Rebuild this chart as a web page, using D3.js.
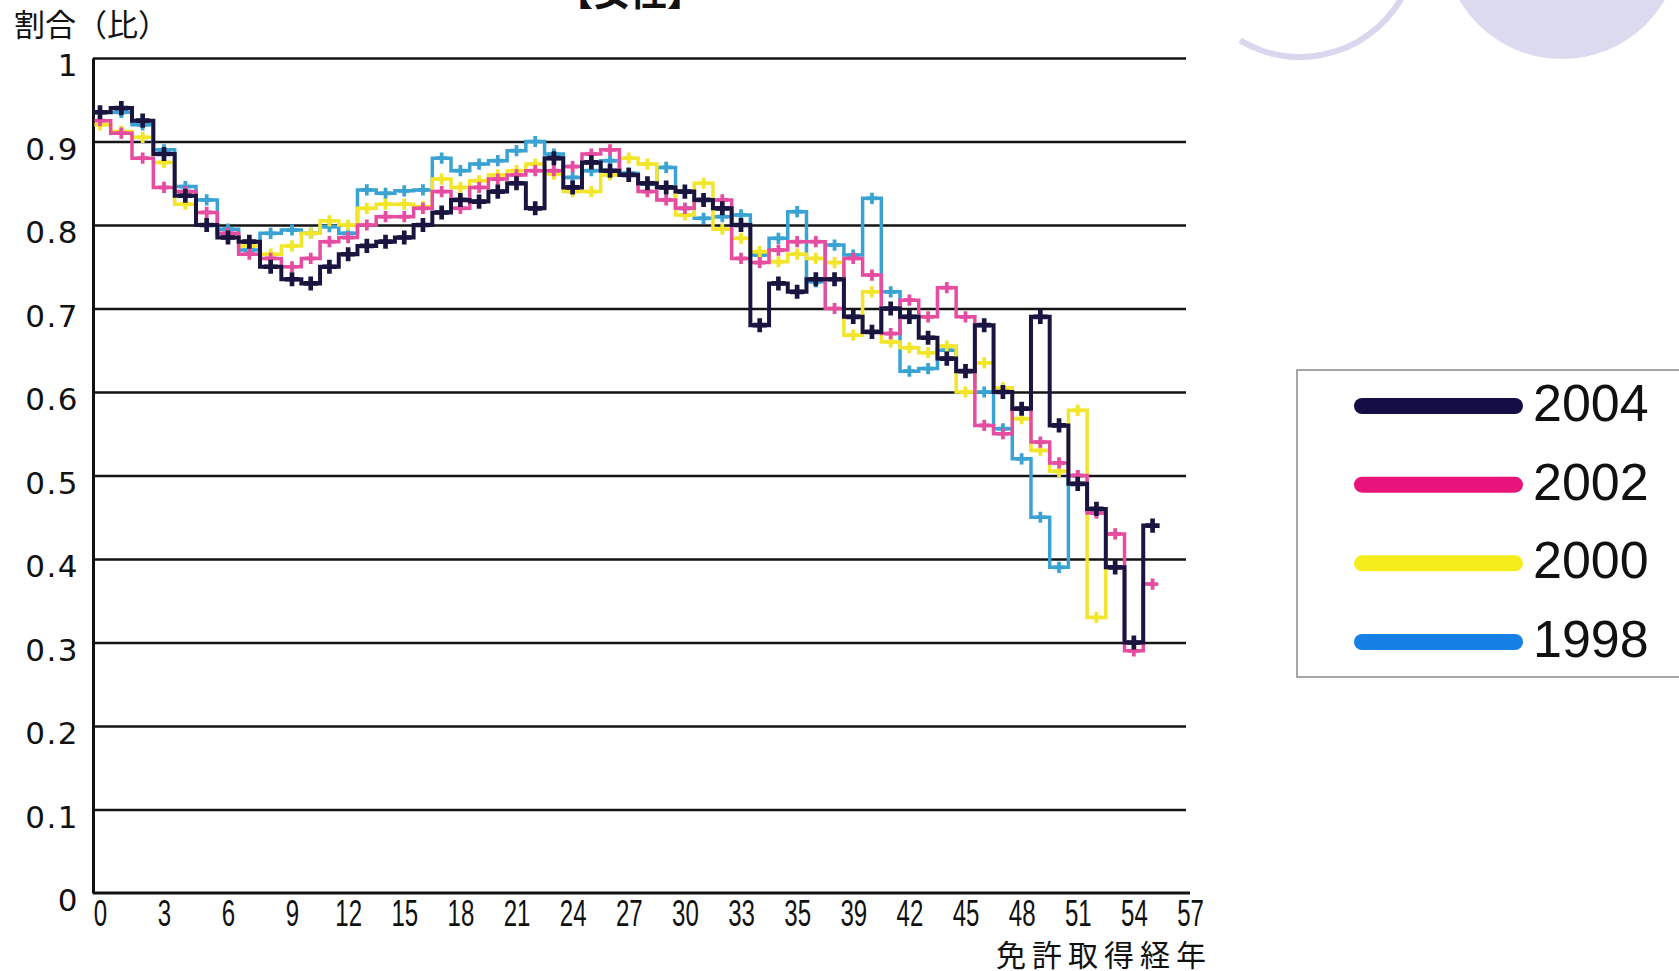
<!DOCTYPE html>
<html lang="ja">
  <head>
    <meta charset="UTF-8" />
    <script src="https://d3js.org/d3.v7.min.js"></script>
    <title>免許取得経年と割合</title>
    <style>
      body { margin: 0; background: #fff; }
      svg { display: block; }
      .axis text { fill: #111; }
    </style>
  </head>
  <body>
    <script>
      var width = 1679
      var height = 971

      // 系列（免許取得経年 0,1,2,... ごとの割合）
      var seriesNames = ['2004', '2002', '2000', '1998']
      var v2004 = [0.935, 0.94, 0.925, 0.885, 0.835, 0.8, 0.785, 0.78, 0.75, 0.735,
        0.73, 0.75, 0.765, 0.775, 0.78, 0.785, 0.8, 0.815, 0.83, 0.828,
        0.84, 0.85, 0.82, 0.88, 0.845, 0.875, 0.865, 0.86, 0.85, 0.845,
        0.84, 0.83, 0.82, 0.8, 0.68, 0.73, 0.72, 0.735, 0.735, 0.69,
        0.672, 0.7, 0.69, 0.665, 0.64, 0.625, 0.68, 0.6, 0.58, 0.69,
        0.56, 0.49, 0.46, 0.39, 0.3, 0.44]
      var v2002 = [0.925, 0.91, 0.88, 0.845, 0.84, 0.815, 0.79, 0.765, 0.76, 0.75,
        0.76, 0.78, 0.785, 0.8, 0.81, 0.81, 0.82, 0.84, 0.82, 0.845,
        0.855, 0.86, 0.865, 0.865, 0.87, 0.885, 0.89, 0.86, 0.84, 0.83,
        0.82, 0.83, 0.83, 0.76, 0.755, 0.77, 0.78, 0.78, 0.7, 0.76,
        0.74, 0.67, 0.71, 0.69, 0.725, 0.69, 0.56, 0.55, 0.58, 0.54,
        0.515, 0.5, 0.455, 0.43, 0.29, 0.37]
      var v2000 = [0.92, 0.912, 0.905, 0.875, 0.825, 0.8, 0.785, 0.775, 0.765, 0.775,
        0.79, 0.805, 0.8, 0.82, 0.825, 0.825, 0.822, 0.855, 0.845, 0.853,
        0.86, 0.865, 0.873, 0.861, 0.84, 0.84, 0.86, 0.88, 0.873, 0.845,
        0.812, 0.85, 0.795, 0.784, 0.768, 0.756, 0.765, 0.76, 0.755, 0.668,
        0.72, 0.66, 0.653, 0.647, 0.655, 0.6, 0.635, 0.605, 0.568, 0.53,
        0.505, 0.578, 0.33, 0.43]
      var v1998 = [0.935, 0.935, 0.92, 0.89, 0.846, 0.83, 0.795, 0.77, 0.79, 0.794,
        0.79, 0.798, 0.79, 0.842, 0.838, 0.841, 0.842, 0.88, 0.865, 0.873,
        0.877, 0.889, 0.9, 0.885, 0.857, 0.865, 0.877, 0.862, 0.849, 0.869,
        0.82, 0.808, 0.81, 0.812, 0.764, 0.784, 0.816, 0.732, 0.776, 0.764,
        0.832, 0.72, 0.625, 0.628, 0.65, 0.625, 0.6, 0.556, 0.52, 0.45,
        0.39, 0.5]

      var xTickYears = d3.range(0, 58, 3)
      var xTickLabels = ['0', '3', '6', '9', '12', '15', '18', '21', '24', '27',
        '30', '33', '35', '39', '42', '45', '48', '51', '54', '57']
      var yTicks = [0, 0.1, 0.2, 0.3, 0.4, 0.5, 0.6, 0.7, 0.8, 0.9, 1]
      var yTickLabels = ['0', '0.1', '0.2', '0.3', '0.4', '0.5', '0.6', '0.7', '0.8', '0.9', '1']

      var lineColors = ['#1a1540', '#e64ca0', '#f2e52a', '#3aa3d4']
      var legendColors = ['#130f46', '#e8137b', '#f6ee1c', '#1780e6']
      var seriesValues = [v2004, v2002, v2000, v1998]

      var svg = d3.select('body').append('svg')
        .attr('width', width)
        .attr('height', height)

      // 右上の飾り
      svg.append('circle')
        .attr('cx', 1562).attr('cy', -60).attr('r', 119)
        .attr('fill', '#dcdaee')
      svg.append('path')
        .attr('transform', 'translate(1300,-60)')
        .attr('d', d3.arc().innerRadius(114).outerRadius(120).startAngle(2.0).endAngle(3.68)())
        .attr('fill', '#d9d7ee')

      var x = d3.scaleLinear().domain([0, 9, 57]).range([100, 292, 1190])
      var y = d3.scaleLinear().domain([0, 1]).range([893, 58])
      var left = 93

      // 目盛線
      svg.append('g')
        .attr('transform', 'translate(' + left + ',0)')
        .call(d3.axisRight(y).tickValues(yTicks.slice(1)).tickSize(1093).tickFormat(''))
        .call(function (g) { g.select('.domain').remove() })
        .selectAll('line')
        .attr('stroke', '#141414')
        .attr('stroke-width', 2.6)

      // y 軸
      var yAxis = svg.append('g')
        .attr('class', 'axis')
        .attr('transform', 'translate(' + left + ',0)')
        .call(d3.axisLeft(y).tickValues(yTicks).tickSize(0).tickPadding(14)
          .tickFormat(function (d, i) { return yTickLabels[i] }))
      yAxis.select('.domain').attr('stroke', '#111').attr('stroke-width', 3)
      yAxis.selectAll('text')
        .attr('font-family', 'DejaVu Sans, sans-serif')
        .attr('font-size', 31)
        .attr('letter-spacing', 1.5)
        .attr('dy', '0.57em')

      // x 軸
      var xAxis = svg.append('g')
        .attr('class', 'axis')
        .attr('transform', 'translate(0,' + y(0) + ')')
        .call(d3.axisBottom(x).tickValues(xTickYears).tickSize(0)
          .tickFormat(function (d, i) { return xTickLabels[i] }))
      xAxis.select('.domain').remove()
      xAxis.append('line')
        .attr('x1', left).attr('x2', 1190)
        .attr('stroke', '#111').attr('stroke-width', 3)
      xAxis.selectAll('text')
        .attr('font-family', 'Liberation Sans, Arial, sans-serif')
        .attr('font-size', 37)
        .attr('y', 33)
        .attr('dy', 0)
        .attr('transform', 'scale(0.65,1)')

      // 系列
      var line = d3.line()
        .x(function (d, i) { return x(i) })
        .y(function (d) { return y(d) })
        .curve(d3.curveStep)

      var order = [3, 2, 1, 0]
      order.forEach(function (k) {
        var g = svg.append('g')
        g.append('path')
          .datum(seriesValues[k])
          .attr('d', line)
          .attr('fill', 'none')
          .attr('stroke', lineColors[k])
          .attr('stroke-width', k === 0 ? 4 : 3.5)
        g.selectAll('path.m')
          .data(seriesValues[k])
          .enter()
          .append('path')
          .attr('class', 'm')
          .attr('transform', function (d, i) { return 'translate(' + x(i) + ',' + y(d) + ')' })
          .attr('d', d3.symbol().type(d3.symbolCross).size(k === 0 ? 110 : 70))
          .attr('fill', lineColors[k])
      })

      // 文字
      svg.append('text')
        .attr('x', 556).attr('y', 6)
        .attr('font-family', 'Noto Sans CJK JP, sans-serif')
        .attr('font-size', 37).attr('font-weight', 'bold')
        .attr('fill', '#111')
        .text('【女性】')

      svg.append('text')
        .attr('x', 14).attr('y', 36)
        .attr('font-family', 'Noto Sans CJK JP, sans-serif')
        .attr('font-size', 31)
        .attr('fill', '#111')
        .text('割合（比）')

      svg.append('text')
        .attr('x', 1212).attr('y', 966)
        .attr('text-anchor', 'end')
        .attr('font-family', 'Noto Sans CJK JP, sans-serif')
        .attr('font-size', 30)
        .attr('letter-spacing', 6)
        .attr('fill', '#111')
        .text('免許取得経年')

      // 凡例
      var legend = svg.append('g')
      legend.append('rect')
        .attr('x', 1297).attr('y', 370)
        .attr('width', 400).attr('height', 307)
        .attr('fill', '#fff')
        .attr('stroke', '#8a8a8a')
        .attr('stroke-width', 1.5)

      var ly = d3.scalePoint().domain(seriesNames).range([406, 642])

      legend.selectAll('line')
        .data(seriesNames)
        .enter()
        .append('line')
        .attr('x1', 1362).attr('x2', 1515)
        .attr('y1', function (d) { return ly(d) })
        .attr('y2', function (d) { return ly(d) })
        .attr('stroke', function (d, i) { return legendColors[i] })
        .attr('stroke-width', 16)
        .attr('stroke-linecap', 'round')

      legend.selectAll('text')
        .data(seriesNames)
        .enter()
        .append('text')
        .attr('x', 1533)
        .attr('y', function (d) { return ly(d) + 15 })
        .attr('font-family', 'Liberation Sans, Arial, sans-serif')
        .attr('font-size', 52)
        .attr('fill', '#111')
        .text(function (d) { return d })
    </script>
  </body>
</html>
